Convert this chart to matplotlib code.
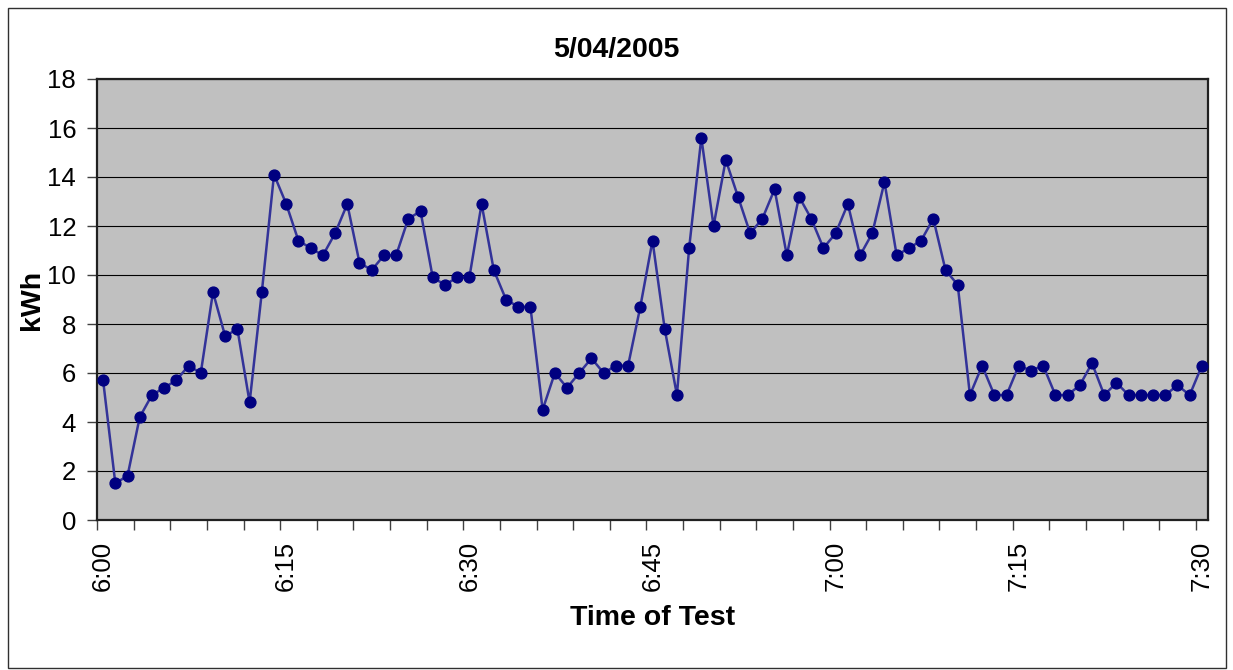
#!/usr/bin/env python

import matplotlib
matplotlib.use('Agg')
import matplotlib.pyplot as plt
from matplotlib.patches import Rectangle
import numpy as np

title = '5/04/2005'
start_hour = 6
n_minutes = 91  # one reading per minute, 6:00 .. 7:30

kwh = [5.7, 1.5, 1.8, 4.2, 5.1, 5.4, 5.7, 6.3, 6.0, 9.3,
       7.5, 7.8, 4.8, 9.3, 14.1, 12.9, 11.4, 11.1, 10.8, 11.7,
       12.9, 10.5, 10.2, 10.8, 10.8, 12.3, 12.6, 9.9, 9.6, 9.9,
       9.9, 12.9, 10.2, 9.0, 8.7, 8.7, 4.5, 6.0, 5.4, 6.0,
       6.6, 6.0, 6.3, 6.3, 8.7, 11.4, 7.8, 5.1, 11.1, 15.6,
       12.0, 14.7, 13.2, 11.7, 12.3, 13.5, 10.8, 13.2, 12.3, 11.1,
       11.7, 12.9, 10.8, 11.7, 13.8, 10.8, 11.1, 11.4, 12.3, 10.2,
       9.6, 5.1, 6.3, 5.1, 5.1, 6.3, 6.1, 6.3, 5.1, 5.1,
       5.5, 6.4, 5.1, 5.6, 5.1, 5.1, 5.1, 5.1, 5.5, 5.1,
       6.3]

minutes = np.arange(n_minutes)
labels = ['%d:%02d' % (start_hour + m // 60, m % 60) for m in minutes]

plt.rcParams['font.family'] = ['Liberation Sans', 'DejaVu Sans']

fig = plt.figure(figsize=(12.33, 6.70), dpi=100)
ax = fig.add_axes([97 / 1233, 1 - 520 / 670, 1111 / 1233, 441 / 670])

# category axis: each reading sits in the middle of its slot
pos = minutes + 0.5
ax.plot(pos, kwh, color='#333399', linewidth=1.8, zorder=3)
ax.plot(pos, kwh, linestyle='none', marker='o', markersize=7.8,
        color='#000080', zorder=4)

ax.set_facecolor('#c0c0c0')
ax.set_xlim(0, n_minutes)
ax.set_ylim(0, 18)
ax.set_yticks(np.arange(0, 19, 2))
ax.yaxis.grid(True, color='black', linewidth=0.8)
ax.set_axisbelow(True)

ax.set_xticks(np.arange(0, n_minutes, 3))
ax.set_xticklabels([])
ax.set_xticks(pos[::15], minor=True)
ax.set_xticklabels(labels[::15], minor=True, rotation=90)
ax.tick_params(axis='x', which='major', direction='out', length=7,
               width=1, color='#404040')
ax.tick_params(axis='x', which='minor', length=0, pad=15, labelsize=18.5)
ax.tick_params(axis='y', direction='out', length=7, width=1,
               color='#404040', labelsize=18.5, pad=8)

for side in ['top', 'right', 'bottom', 'left']:
    ax.spines[side].set_linewidth(1.6)
    ax.spines[side].set_color('#202020')

# title is centred on the whole chart, not on the plot area
ax.set_title(title, fontsize=20.5, fontweight='bold', pad=16,
             x=(616.5 - 97) / 1111)
ax.set_xlabel('Time of Test', fontsize=20.5, fontweight='bold', labelpad=10)
ax.set_ylabel('kWh', fontsize=20.5, fontweight='bold', labelpad=2)

fig.patches.append(Rectangle((7.5 / 1233, 2.5 / 670), 1218 / 1233, 660 / 670,
                             transform=fig.transFigure, fill=False,
                             edgecolor='#303030', linewidth=1))

fig.savefig('out.png', dpi=100)
